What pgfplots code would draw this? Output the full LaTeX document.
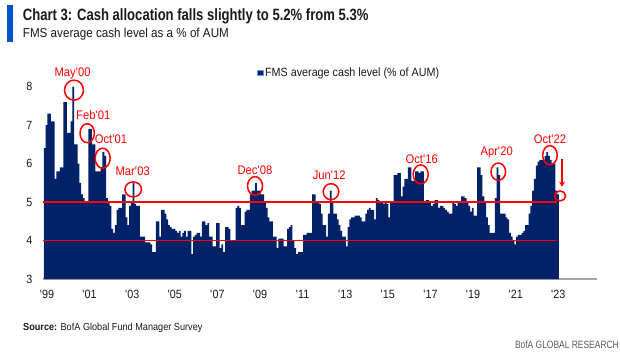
\documentclass[border=0pt]{standalone}
\usepackage{fontspec}
\setmainfont{Liberation Sans}[FakeStretch=0.8]
\newfontfamily\widefont{Liberation Sans}[FakeStretch=0.9]
\usepackage{pgfplots}
\pgfplotsset{compat=1.18}
\usepackage{pgfplotstable}
\usetikzlibrary{arrows.meta}
\definecolor{navy}{RGB}{1,33,105}
\definecolor{bofablue}{RGB}{0,83,200}
\definecolor{annred}{RGB}{255,0,0}
\definecolor{txt}{RGB}{25,25,25}
\definecolor{axgray}{RGB}{165,165,165}
\newcommand{\q}{\textquotesingle}

\pgfplotstableread{
m v
0 6.4
1 7.0
2 7.3
3 7.3
4 7.1
5 7.1
6 5.6
7 5.8
8 5.8
9 5.9
10 5.9
11 7.6
12 7.6
13 6.8
14 6.8
15 7.1
16 8.0
17 6.5
18 6.5
19 6.0
20 5.5
21 5.2
22 5.1
23 5.0
24 5.0
25 6.9
26 6.9
27 6.5
28 6.5
29 5.8
30 5.8
31 5.8
32 5.9
33 6.3
34 6.2
35 5.1
36 5.0
37 4.9
38 4.3
39 4.2
40 4.4
41 4.8
42 4.85
43 4.85
44 5.2
45 5.2
46 4.6
47 4.4
48 4.9
49 5.0
50 5.5
51 4.95
52 4.9
53 4.9
54 4.1
55 4.1
56 4.1
57 3.95
58 3.95
59 3.95
60 3.9
61 3.7
62 3.7
63 4.5
64 4.5
65 4.1
66 4.8
67 4.8
68 4.7
69 4.55
70 4.4
71 4.35
72 4.3
73 4.3
74 4.25
75 4.2
76 4.25
77 4.1
78 4.2
79 4.25
80 4.1
81 4.25
82 4.25
83 3.65
84 4.1
85 4.15
86 4.2
87 4.2
88 4.1
89 4.5
90 4.5
91 4.4
92 4.45
93 4.1
94 4.1
95 3.85
96 3.85
97 4.45
98 4.45
99 3.8
100 3.9
101 3.7
102 4.35
103 4.35
104 4.3
105 4.0
106 4.0
107 4.0
108 4.85
109 4.9
110 4.85
111 4.4
112 4.4
113 4.75
114 4.8
115 4.8
116 5.2
117 5.3
118 5.3
119 5.5
120 5.3
121 5.3
122 5.2
123 5.2
124 5.0
125 4.85
126 4.6
127 4.5
128 4.5
129 4.1
130 4.1
131 3.8
132 4.05
133 4.05
134 4.05
135 3.85
136 3.85
137 4.3
138 4.35
139 4.4
140 4.0
141 3.8
142 3.65
143 3.7
144 3.7
145 3.7
146 4.15
147 4.15
148 4.2
149 4.2
150 4.2
151 5.2
152 5.2
153 5.0
154 5.0
155 4.95
156 4.7
157 4.4
158 4.4
159 4.1
160 4.7
161 5.3
162 5.0
163 4.7
164 4.7
165 4.55
166 4.4
167 4.25
168 4.1
169 4.1
170 3.85
171 4.35
172 4.55
173 4.6
174 4.6
175 4.65
176 4.65
177 4.65
178 4.6
179 4.5
180 4.5
181 4.7
182 4.8
183 4.85
184 4.8
185 4.8
186 4.55
187 5.1
188 5.05
189 5.0
190 5.0
191 4.95
192 5.0
193 4.95
194 4.6
195 5.0
196 5.0
197 5.7
198 5.7
199 5.75
200 5.75
201 5.15
202 5.4
203 5.6
204 5.6
205 5.9
206 5.9
207 5.55
208 5.55
209 5.8
210 5.8
211 5.75
212 5.8
213 5.8
214 5.0
215 5.05
216 5.05
217 5.0
218 4.9
219 4.95
220 5.05
221 5.05
222 4.85
223 4.9
224 4.9
225 4.85
226 4.8
227 4.75
228 4.7
229 4.7
230 5.0
231 4.95
232 4.9
233 5.0
234 5.0
235 5.15
236 5.15
237 5.1
238 5.0
239 4.9
240 4.75
241 4.85
242 4.65
243 4.65
244 5.9
245 5.9
246 5.7
247 5.15
248 5.0
249 4.6
250 4.4
251 4.2
252 4.2
253 4.2
254 5.1
255 5.9
256 5.7
257 4.7
258 4.7
259 4.7
260 4.6
261 4.55
262 4.2
263 4.1
264 4.0
265 3.9
266 4.1
267 4.15
268 4.15
269 4.2
270 4.25
271 4.4
272 4.4
273 4.7
274 4.9
275 5.3
276 5.6
277 5.95
278 6.05
279 6.1
280 6.1
281 6.1
282 6.2
283 6.3
284 6.2
285 6.1
286 6.0
287 6.0
288 5.3
289 5.2
290 5.2
}\cashdata

\begin{document}
\begin{tikzpicture}[x=1bp,y=1bp]
\path[use as bounding box] (0,0) rectangle (620,352);
\fill[bofablue] (7,310.3) rectangle (13,347.3);
\node[anchor=base west, inner sep=0, text=txt, font=\fontsize{16.4}{19}\selectfont\bfseries] at (22.7,331.3) {Chart 3: Cash allocation falls slightly to 5.2\% from 5.3\%};
\node[anchor=base west, inner sep=0, text=txt, font=\widefont\fontsize{13}{15}\selectfont] at (22.7,314.7) {FMS average cash level as a \% of AUM};
\begin{axis}[
  at={(43bp,73bp)}, anchor=south west,
  scale only axis, width=554bp, height=215.4bp,
  xmin=-0.5, xmax=311.5, ymin=3, ymax=8.6,
  axis x line*=bottom, axis y line*=left,
  y axis line style={draw=none},
  x axis line style={draw=axgray, line width=1.2bp, -},
  major tick length=0pt,
  xtick={1.7,25.7,49.7,73.7,97.7,121.7,145.7,169.7,193.7,217.7,241.7,265.7,289.7},
  xticklabels={\q99,\q01,\q03,\q05,\q07,\q09,\q11,\q13,\q15,\q17,\q19,\q21,\q23},
  ytick={3,4,5,6,7,8},
  /pgf/number format/assume math mode=true,
  tick label style={font=\widefont\fontsize{12}{14}\selectfont, text=txt},
  yticklabel style={xshift=-7bp},
  xticklabel style={yshift=-8bp},
  legend style={at={(0.386,0.957)}, anchor=west, draw=none, fill=none, inner sep=0pt,
    font=\widefont\fontsize{12}{14}\selectfont, text=txt},
  legend image code/.code={\draw[fill=navy, draw=bofablue!60, line width=0.6bp] (0bp,-2.8bp) rectangle (5.5bp,2.8bp);},
]
\addplot[const plot, fill=navy, draw=none] table[x=m,y=v] {\cashdata} \closedcycle;
\addlegendentry{FMS average cash level (\% of AUM)}
\addplot[annred, line width=1.8bp, forget plot] coordinates {(-0.5,5) (289,5)};
\addplot[annred, line width=1.8bp, forget plot] coordinates {(-0.5,4) (289,4)};
\begin{scope}[annred, line width=1.5bp]
\draw (axis cs:16.95,7.91) ellipse [x radius=9.5bp, y radius=10bp];
\draw (axis cs:24.4,6.79) ellipse [x radius=7.2bp, y radius=9.5bp];
\draw (axis cs:33.1,6.14) ellipse [x radius=7.5bp, y radius=10bp];
\draw (axis cs:50.3,5.33) ellipse [x radius=8.3bp, y radius=7.5bp];
\draw (axis cs:118.9,5.42) ellipse [x radius=7.5bp, y radius=9.3bp];
\draw (axis cs:161.7,5.27) ellipse [x radius=7.8bp, y radius=8bp];
\draw (axis cs:212.2,5.72) ellipse [x radius=7.5bp, y radius=9.5bp];
\draw (axis cs:255.9,5.79) ellipse [x radius=7.3bp, y radius=8.7bp];
\draw (axis cs:285.0,6.22) ellipse [x radius=7.3bp, y radius=9.5bp];
\draw (axis cs:290.7,5.16) ellipse [x radius=5.5bp, y radius=5bp];
\draw[-{Stealth[length=5bp,width=6bp]}] (axis cs:291.8,6.11) -- (axis cs:291.8,5.40);
\end{scope}
\begin{scope}[every node/.style={text=annred, font=\widefont\fontsize{12.5}{14}\selectfont, inner sep=0}]
\node at (axis cs:16.2,8.35) {May\q00};
\node at (axis cs:27.8,7.26) {Feb\q01};
\node at (axis cs:37.8,6.63) {Oct\q01};
\node at (axis cs:50.0,5.79) {Mar\q03};
\node at (axis cs:118.9,5.83) {Dec\q08};
\node at (axis cs:160.7,5.69) {Jun\q12};
\node at (axis cs:212.8,6.12) {Oct\q16};
\node at (axis cs:255.0,6.28) {Apr\q20};
\node at (axis cs:285.0,6.64) {Oct\q22};
\end{scope}
\end{axis}
\node[anchor=base west, inner sep=0, text=txt, font=\widefont\fontsize{10.2}{12}\selectfont] at (23,21.1) {\textbf{Source:} BofA Global Fund Manager Survey};
\node[anchor=base east, inner sep=0, text=black!65, font=\fontsize{10.6}{12}\selectfont] at (619,3.6) {BofA GLOBAL RESEARCH};
\end{tikzpicture}
\end{document}
